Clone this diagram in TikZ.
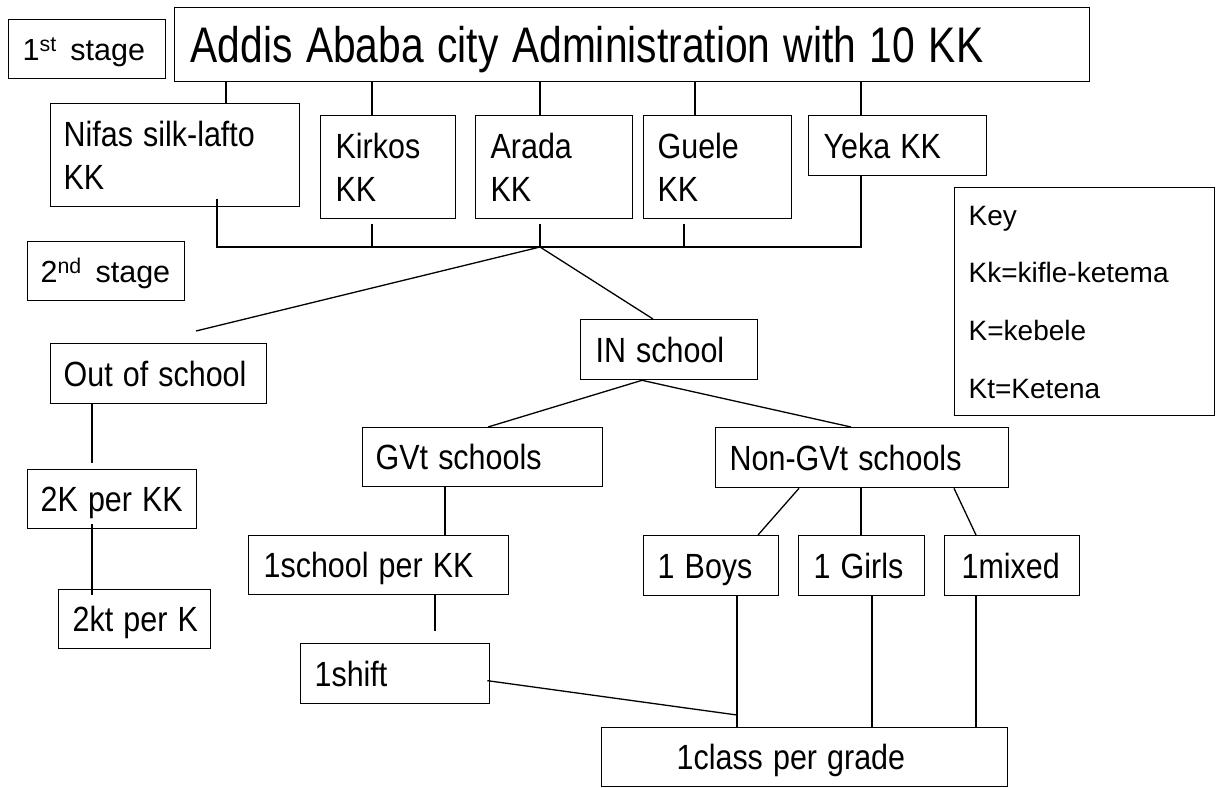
\documentclass[tikz,border=0pt]{standalone}
\usepackage{fontspec}
\usepackage{graphicx}
\setmainfont{Liberation Sans}
\newcommand*\nt[1]{\scalebox{0.87}[1]{#1}}
\newcommand*\ttl[1]{\scalebox{0.815}[1]{#1}}
\tikzset{
  box/.style={draw, line width=1.3pt, anchor=north west, inner ysep=0pt, align=left,
    font=\fontsize{35}{43}\selectfont, text height=25pt, text depth=0pt},
  twoline/.style={text depth=43pt},
  stagebox/.style={font=\fontsize{30.5}{36}\selectfont, text height=22pt},
  keybox/.style={font=\fontsize{28}{57.7}\selectfont, text height=20pt, text depth=173pt},
  titlebox/.style={font=\fontsize{50}{56}\selectfont, text height=36pt},
  conn/.style={line width=1.3pt}
}
\begin{document}
\begin{tikzpicture}[x=1pt,y=-1pt]
\useasboundingbox (0,0) rectangle (1220,787);
% nodes
\node[box,stagebox,minimum width=157pt,minimum height=59pt,inner xsep=14pt,text width=129pt] (stageA) at (8,19) {1\textsuperscript{st}\hspace{0.45em}stage};
\node[box,titlebox,minimum width=915pt,minimum height=74pt,inner xsep=16pt,text width=883pt] (main) at (174,7) {\ttl{Addis Ababa city Administration with 10 KK}};
\node[box,twoline,minimum width=249pt,minimum height=103pt,inner xsep=13pt,text width=223pt] (nifas) at (50,103) {\nt{Nifas silk-lafto}\\\nt{KK}};
\node[box,twoline,minimum width=135pt,minimum height=103pt,inner xsep=15pt,text width=105pt] (kirkos) at (320,115) {\nt{Kirkos}\\\nt{KK}};
\node[box,twoline,minimum width=157pt,minimum height=103pt,inner xsep=15pt,text width=127pt] (arada) at (475,115) {\nt{Arada}\\\nt{KK}};
\node[box,twoline,minimum width=148pt,minimum height=103pt,inner xsep=14pt,text width=120pt] (guele) at (643,115) {\nt{Guele}\\\nt{KK}};
\node[box,minimum width=178pt,minimum height=60pt,inner xsep=15pt,text width=148pt] (yeka) at (808,115) {\nt{Yeka KK}};
\node[box,keybox,minimum width=260pt,minimum height=228pt,inner xsep=14pt,text width=232pt] (key) at (954,187) {Key\\Kk=kifle-ketema\\K=kebele\\Kt=Ketena};
\node[box,stagebox,minimum width=157pt,minimum height=59pt,inner xsep=13pt,text width=131pt] (stageB) at (27,241) {2\textsuperscript{nd}\hspace{0.45em}stage};
\node[box,minimum width=216pt,minimum height=60pt,inner xsep=13pt,text width=190pt] (outschool) at (50,343) {\nt{Out of school}};
\node[box,minimum width=177pt,minimum height=60pt,inner xsep=15pt,text width=147pt] (inschool) at (580,319) {\nt{IN school}};
\node[box,minimum width=240pt,minimum height=59pt,inner xsep=13pt,text width=214pt] (gvt) at (362,427) {\nt{GVt schools}};
\node[box,minimum width=293pt,minimum height=60pt,inner xsep=14pt,text width=265pt] (nongvt) at (715,427) {\nt{Non-GVt schools}};
\node[box,minimum width=169pt,minimum height=59pt,inner xsep=13pt,text width=143pt] (twoK) at (27,469) {\nt{2K per KK}};
\node[box,minimum width=260pt,minimum height=59pt,inner xsep=15pt,text width=230pt] (school1) at (248,535) {\nt{1school per KK}};
\node[box,minimum width=135pt,minimum height=60pt,inner xsep=14pt,text width=107pt] (boys) at (643,535) {\nt{1 Boys}};
\node[box,minimum width=126pt,minimum height=60pt,inner xsep=15pt,text width=96pt] (girls) at (798,535) {\nt{1 Girls}};
\node[box,minimum width=135pt,minimum height=60pt,inner xsep=17pt,text width=101pt] (mixed) at (944,535) {\nt{1mixed}};
\node[box,minimum width=152pt,minimum height=59pt,inner xsep=14pt,text width=124pt] (twokt) at (58,589) {\nt{2kt per K}};
\node[box,minimum width=189pt,minimum height=60pt,inner xsep=14pt,text width=161pt] (shift) at (300,643) {\nt{1shift}};
\node[box,minimum width=406pt,minimum height=59pt,inner xsep=75pt,text width=256pt] (grade) at (601,727) {\nt{1class per grade}};
% column / helper coordinates
\coordinate (c92) at (92,0);
\coordinate (c217) at (217,0);
\coordinate (c226) at (226,0);
\coordinate (c372) at (372,0);
\coordinate (c435) at (435,0);
\coordinate (c445) at (445,0);
\coordinate (c540) at (540,0);
\coordinate (c642) at (642,0);
\coordinate (c653) at (653,0);
\coordinate (c684) at (684,0);
\coordinate (c695) at (695,0);
\coordinate (c737) at (737,0);
\coordinate (c758) at (758,0);
\coordinate (c799) at (799,0);
\coordinate (c851) at (851,0);
\coordinate (c488) at (488,0);
\coordinate (c861) at (861,0);
\coordinate (c872) at (872,0);
\coordinate (c954) at (954,0);
\coordinate (c976) at (976,0);
\coordinate (bar) at (540,247);
\coordinate (outEnd) at (196,331);
\coordinate (outDown) at (92,463);
\coordinate (schoolDown) at (435,631);
\coordinate (meet) at (737,715);
% connectors: first stage
\draw[conn] (main.south -| c226) -- (nifas.north -| c226);
\draw[conn] (main.south -| c372) -- (kirkos.north -| c372);
\draw[conn] (main.south -| c540) -- (arada.north -| c540);
\draw[conn] (main.south -| c695) -- (guele.north -| c695);
\draw[conn] (main.south -| c861) -- (yeka.north -| c861);
\draw[conn] ([yshift=8pt]nifas.south -| c217) -- (c217 |- bar) -- (c861 |- bar) -- (yeka.south -| c861);
\draw[conn] ([yshift=-5pt]kirkos.south -| c372) -- (c372 |- bar);
\draw[conn] ([yshift=-5pt]arada.south -| c540) -- (bar);
\draw[conn] ([yshift=-5pt]guele.south -| c684) -- (c684 |- bar);
% second stage
\draw[conn] (bar) -- (outEnd);
\draw[conn] (bar) -- (inschool.north -| c653);
\draw[conn] (outschool.south -| c92) -- (outDown);
\draw[conn] ([yshift=5pt]twoK.south -| c92) -- ([yshift=-6pt]twokt.north -| c92);
\draw[conn] (inschool.south -| c642) -- (gvt.north -| c488);
\draw[conn] (inschool.south -| c642) -- (nongvt.north -| c851);
\draw[conn] (gvt.south -| c445) -- (school1.north -| c445);
\draw[conn] (school1.south -| c435) -- (schoolDown);
\draw[conn] (nongvt.south -| c799) -- (boys.north -| c758);
\draw[conn] (nongvt.south -| c861) -- (girls.north -| c861);
\draw[conn] (nongvt.south -| c954) -- (mixed.north -| c976);
\draw[conn] (boys.south -| c737) -- (grade.north -| c737);
\draw[conn] (girls.south -| c872) -- (grade.north -| c872);
\draw[conn] (mixed.south -| c976) -- (grade.north -| c976);
\draw[conn] ([xshift=-3pt,yshift=-7pt]shift.east) -- (meet);
\end{tikzpicture}
\end{document}
